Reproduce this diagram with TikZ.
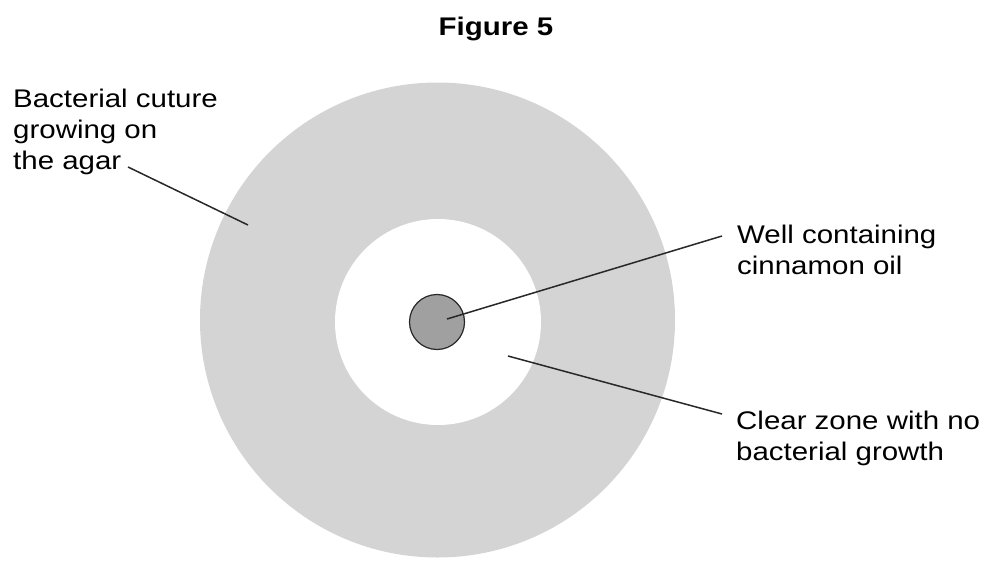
\documentclass[tikz,border=0pt]{standalone}
\usepackage{fontspec}
\setmainfont{Liberation Sans}[FakeStretch=1.155]
\definecolor{diskgray}{RGB}{212,212,212}
\definecolor{wellgray}{RGB}{160,160,160}
\definecolor{inkgray}{RGB}{40,40,40}
\begin{document}
\begin{tikzpicture}[x=1pt,y=-1pt,
  lbl/.style={anchor=north west,inner sep=0pt,align=left,text=black,
    font=\fontsize{25.5}{31}\selectfont},
  leader/.style={draw=inkgray,line width=1.5pt}]
\useasboundingbox (0,0) rectangle (986,560);
% agar plate
\node[circle,fill=diskgray,minimum size=475pt,inner sep=0pt] (agar) at (437.5,320) {};
\node[circle,fill=white,minimum size=206pt,inner sep=0pt] (zone) at (438,322) {};
\node[circle,fill=wellgray,draw=inkgray,line width=1.2pt,minimum size=55pt,inner sep=0pt] (well) at (437,322) {};
% title
\node[anchor=base,inner sep=0pt,font=\bfseries\fontsize{25.5}{31}\selectfont] (title) at (496,35) {Figure 5};
% labels
\node[lbl] (bact) at (13,88.7) {Bacterial cuture\\growing on\\the agar};
\node[lbl] (welllbl) at (737,224.7) {Well containing\\cinnamon oil};
\node[lbl] (clear) at (736,410.7) {Clear zone with no\\bacterial growth};
% leader ends
\coordinate (b1) at (128,167);
\coordinate (b2) at (248,225);
\coordinate (w1) at (722,236);
\coordinate (w2) at (447,319);
\coordinate (c1) at (722,414);
\coordinate (c2) at (508,356);
\draw[leader] (b1) -- (b2);
\draw[leader] (w1) -- (w2);
\draw[leader] (c1) -- (c2);
\end{tikzpicture}
\end{document}
